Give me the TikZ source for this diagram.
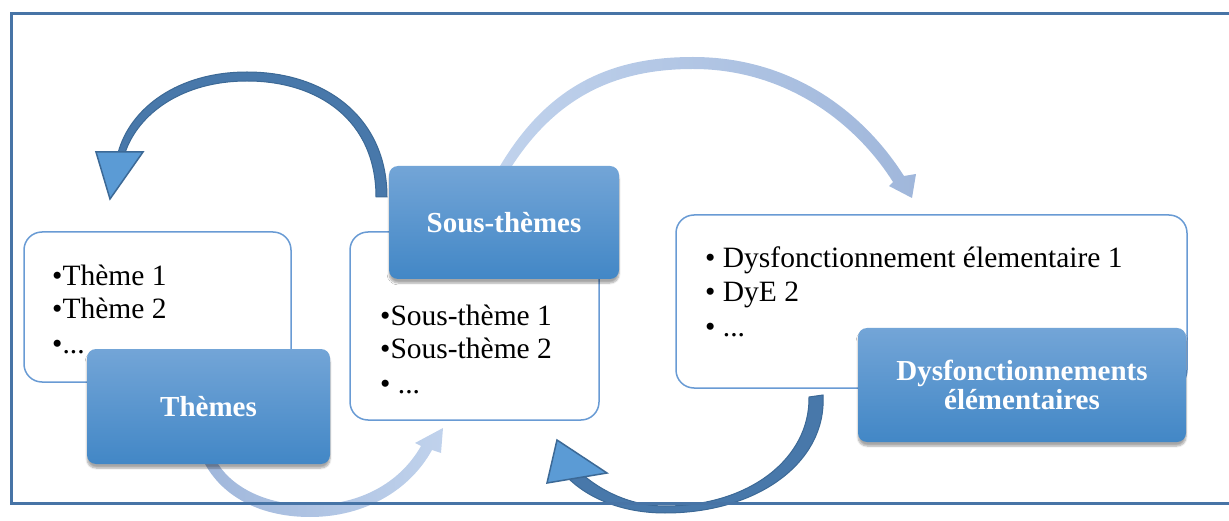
\documentclass[tikz,border=0pt]{standalone}
\usepackage{fontspec}
\setmainfont{Liberation Serif}
\usetikzlibrary{shadows.blur}
\definecolor{frameblue}{RGB}{71,116,166}
\definecolor{boxtop}{RGB}{115,165,215}
\definecolor{boxbot}{RGB}{66,135,198}
\definecolor{listedge}{RGB}{105,155,212}
\definecolor{darkarrow}{RGB}{72,120,170}
\definecolor{darkedge}{RGB}{60,105,150}
\definecolor{headfill}{RGB}{91,155,213}
\definecolor{lightA}{RGB}{192,210,236}
\definecolor{lightB}{RGB}{160,183,219}
\tikzset{
 listbox/.style={draw=listedge, line width=1.5pt, fill=white, rounded corners=18pt, inner sep=0pt},
 bluebox/.style={rounded corners=9pt, top color=boxtop, bottom color=boxbot, draw=none, inner sep=0pt,
   text=white, font=\fontsize{29}{29}\selectfont\bfseries, align=center,
   blur shadow={shadow xshift=0pt, shadow yshift=-4pt, shadow blur steps=6, shadow opacity=35}},
 item/.style={anchor=base west, inner sep=0pt, font=\fontsize{29.5}{33}\selectfont},
 darkshaft/.style={fill=darkarrow, draw=darkedge, line width=1pt},
 darkhead/.style={fill=headfill, draw=darkedge, line width=1.5pt, line join=miter},
 lightarrow/.style={draw=none},
 frameline/.style={draw=frameblue, line width=3pt}
}
\begin{document}
\begin{tikzpicture}[x=1pt,y=-1pt]
\useasboundingbox (0,0) rectangle (1229,521);
% arrows (behind boxes)
\path[darkshaft] (387,197) .. controls (387,118) and (326,72) .. (247,72) .. controls (178,72) and (130,108) .. (118,153) -- (125,153) .. controls (138,114) and (182,81) .. (247,81) .. controls (318,81) and (376,120) .. (376,197) -- cycle;
\path[darkhead] (96,152) -- (143,152) -- (110,199) -- cycle;
\path[lightarrow, left color=lightA, right color=lightB] (500,166) .. controls (550,82) and (615,57) .. (693,57) .. controls (790,57) and (862,110) .. (904,176) -- (916,174) -- (912,198) -- (889,186) -- (893,182) .. controls (855,122) and (785,69) .. (693,69) .. controls (622,69) and (560,92) .. (512,166) -- cycle;
\path[lightarrow, left color=lightB, right color=lightA] (205,464) .. controls (225,500) and (265,517) .. (310,517) .. controls (365,517) and (410,490) .. (432,450) -- (441,453) -- (443,428) -- (415,443) -- (421,446) .. controls (400,483) and (360,505) .. (310,505) .. controls (270,505) and (235,490) .. (218,464) -- cycle;
\path[darkshaft] (823,395) .. controls (827,462) and (758,513) .. (665,513) .. controls (622,513) and (588,498) .. (568,478) -- (582,474) .. controls (600,490) and (630,506) .. (665,506) .. controls (750,506) and (810,458) .. (809,397) -- cycle;
\path[darkhead] (547,483) -- (557,440) -- (607,473) -- cycle;
% list boxes
\node[listbox, minimum width=267pt, minimum height=150pt] (thl) at (157.5,307) {};
\node[listbox, minimum width=249pt, minimum height=188pt] (stl) at (474.5,326) {};
\node[listbox, minimum width=511pt, minimum height=173pt] (dyl) at (931.5,301.5) {};
% list items
\node[item] (t1) at (52,286) {•Thème 1};
\node[item] (t2) at (52,319) {•Thème 2};
\node[item] (t3) at (52,353) {•...};
\node[item] (s1) at (380,326) {•Sous-thème 1};
\node[item] (s2) at (380,359) {•Sous-thème 2};
\node[item] (s3) at (380,393) {• ...};
\node[item] (d1) at (705,268) {• Dysfonctionnement élementaire 1};
\node[item] (d2) at (705,302) {• DyE 2};
\node[item] (d3) at (705,337) {• ...};
% header boxes
\node[bluebox, minimum width=243pt, minimum height=115pt] (th) at (208.5,406.5) {Thèmes};
\node[bluebox, minimum width=230pt, minimum height=113pt] (st) at (504,222.5) {Sous-thèmes};
\node[bluebox, minimum width=328pt, minimum height=114pt] (dy) at (1022,385) {Dysfonctionnements\\élémentaires};
% frame
\path[frameline] (1229,14) -- (11,14) -- (11,503) -- (1229,503);
\end{tikzpicture}
\end{document}
